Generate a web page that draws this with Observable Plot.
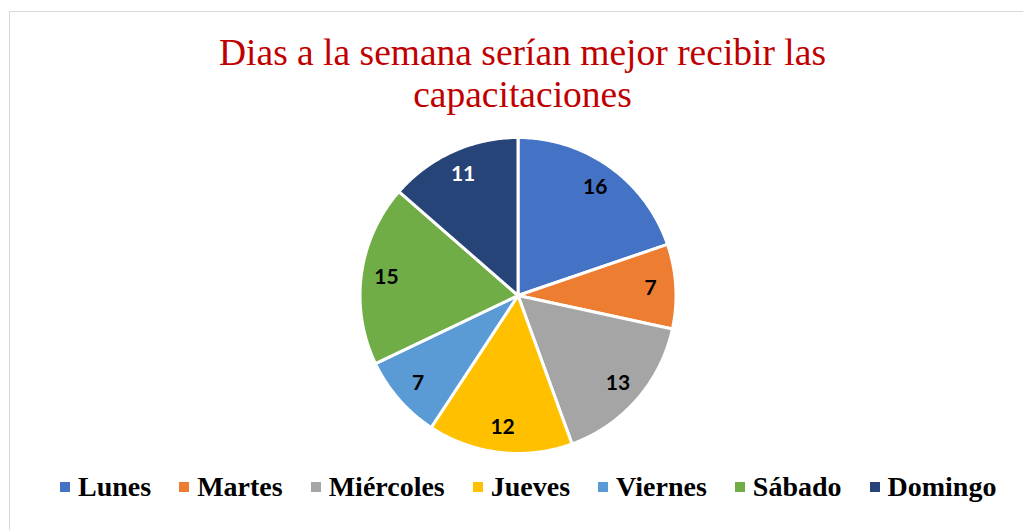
<!DOCTYPE html>
<html>
<head>
<meta charset="utf-8">
<script src="https://cdn.jsdelivr.net/npm/d3@7"></script>
<script src="https://cdn.jsdelivr.net/npm/@observablehq/plot@0.6"></script>
<style>
  html, body { margin: 0; padding: 0; background: #fff; }
  #wrap { position: relative; width: 1023px; height: 530px; overflow: hidden; }
  #frame { position: absolute; left: 9px; top: 11px; width: 1100px; height: 600px;
           border-left: 1px solid #d9d9d9; border-top: 1px solid #d9d9d9; box-sizing: border-box; }
  #hdr { position: absolute; left: 0; width: 1045px; top: 32px; text-align: center;
         font-family: "Liberation Serif", serif; font-weight: normal;
         font-size: 37.5px; line-height: 42px; color: #C00000; }
  #chart { position: absolute; left: 0; top: 125px; }
  #leg { position: absolute; left: 60px; top: 471px; white-space: nowrap;
         font-family: "Liberation Serif", serif;
         font-weight: bold; font-size: 28px; line-height: 32px; color: #000; }
  #leg .item { display: inline-block; margin-right: 28px; }
  #leg .sw { display: inline-block; width: 10px; height: 10px; margin-right: 8px; vertical-align: 4px; }
</style>
</head>
<body>
<div id="wrap">
  <div id="frame"></div>
  <div id="hdr">Dias a la semana serían mejor recibir las<br>capacitaciones</div>
  <div id="chart"></div>
  <div id="leg"></div>
</div>
<script>
const days = ["Lunes", "Martes", "Miércoles", "Jueves", "Viernes", "Sábado", "Domingo"];
const counts = [16, 7, 13, 12, 7, 15, 11];
const colors = ["#4472C4", "#ED7D31", "#A5A5A5", "#FFC000", "#5B9BD5", "#70AD47", "#264478"];
const labelColors = ["#000", "#000", "#000", "#000", "#000", "#000", "#fff"];

const R = 158;
const arcs = d3.pie().sort(null).value(d => d)(counts);
const slices = arcs.map((a, i) => {
  const n = Math.max(2, Math.ceil((a.endAngle - a.startAngle) / 0.01));
  const ring = [[0, 0]];
  for (let k = 0; k <= n; k++) {
    const t = a.startAngle + (a.endAngle - a.startAngle) * k / n;
    ring.push([R * Math.sin(t), -R * Math.cos(t)]);
  }
  ring.push([0, 0]);
  return {type: "Feature", properties: {day: days[i]}, geometry: {type: "Polygon", coordinates: [ring]}};
});
const labels = arcs.map((a, i) => {
  const m = (a.startAngle + a.endAngle) / 2;
  const r = 0.84 * R;
  return {day: days[i], value: counts[i], x: r * Math.sin(m), y: -r * Math.cos(m), c: labelColors[i]};
});
const H = 340;
const half = H / 2;
const domain = {type: "Polygon", coordinates: [[[-half, -half], [half, -half], [half, half], [-half, half], [-half, -half]]]};

const plot = Plot.plot({
  width: 1023,
  height: H,
  marginLeft: 12, marginRight: 0, marginTop: 0, marginBottom: 0,
  projection: {type: "identity", domain},
  color: {domain: days, range: colors},
  marks: [
    Plot.geo(slices, {fill: d => d.properties.day, stroke: "white", strokeWidth: 3, strokeLinejoin: "round"}),
    Plot.text(labels, {x: "x", y: "y", text: d => String(d.value), fill: "c",
      fontFamily: "Lato, 'Open Sans', sans-serif", fontWeight: "bold", fontSize: 21})
  ]
});
document.getElementById("chart").appendChild(plot);

const leg = document.getElementById("leg");
days.forEach((d, i) => {
  const it = document.createElement("span");
  it.className = "item";
  const sw = document.createElement("span");
  sw.className = "sw";
  sw.style.background = colors[i];
  it.appendChild(sw);
  it.appendChild(document.createTextNode(d));
  leg.appendChild(it);
});
</script>
</body>
</html>
